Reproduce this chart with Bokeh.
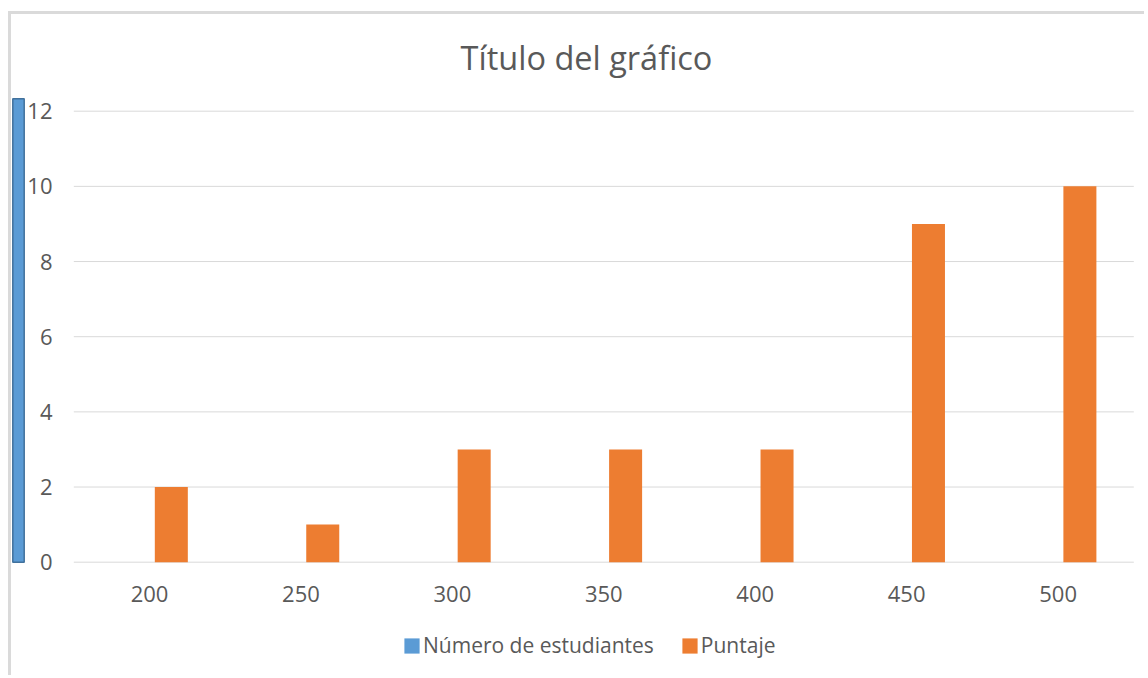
from bokeh.plotting import figure
from bokeh.models import (ColumnDataSource, Range1d, Legend, LegendItem, Label)
from bokeh.core.properties import value
from bokeh.embed import file_html
from bokeh.resources import INLINE

# ---- data ----
categories = ["200", "250", "300", "350", "400", "450", "500"]
estudiantes = [0, 0, 0, 0, 0, 0, 0]      # "Número de estudiantes" (no visible bars)
puntaje = [2, 1, 3, 3, 3, 9, 10]          # "Puntaje"
y_ticks = [0, 2, 4, 6, 8, 10, 12]
title_text = "Título del gráfico"
series_names = ["Número de estudiantes", "Puntaje"]

BLUE = "#5B9BD5"
BLUE_EDGE = "#41719C"
ORANGE = "#ED7D31"
GRID = "#D9D9D9"
BORDER = "#DADADA"
TEXT = "#595959"
FONT = "Open Sans"

# ---- geometry (pixels) ----
W, H = 1136, 664            # canvas size; canvas sits at page (11, 14)
PLOT_L, PLOT_R = 62.3, 1122.3   # plot area (category band) in canvas px
PLOT_T, PLOT_B = 96.7, 547.7    # y = top tick / y = 0 in canvas px
PXX = (PLOT_R - PLOT_L) / len(categories)
PXY = (PLOT_B - PLOT_T) / y_ticks[-1]

x_range = Range1d(-PLOT_L / PXX, (W - PLOT_L) / PXX)
y_range = Range1d(-(H - PLOT_B) / PXY, PLOT_B / PXY)

p = figure(x_range=x_range, y_range=y_range, width=W, height=H, title=None,
           x_axis_type=None, y_axis_type=None, output_backend="svg",
           toolbar_location=None, min_border_left=0, min_border_right=0,
           min_border_top=0, min_border_bottom=0)
p.styles = {"margin-top": "11px", "margin-left": "8px",
            "border-top": "3px solid " + BORDER, "border-left": "3px solid " + BORDER}
p.outline_line_color = None
p.xgrid.grid_line_color = None
p.ygrid.grid_line_color = None

n = len(categories)
centers = [i + 0.5 for i in range(n)]
src = ColumnDataSource(dict(cat=categories, xc=centers, est=estudiantes, pun=puntaje,
                            x_est=[c - 0.074 for c in centers],
                            x_pun=[c + 0.144 for c in centers]))

# gridlines (value axis)
p.segment(x0=[0] * len(y_ticks), x1=[n] * len(y_ticks), y0=y_ticks, y1=y_ticks,
          line_color=GRID, line_width=1)

r_est = p.vbar(x="x_est", top="est", width=0.218, source=src,
               fill_color=BLUE, line_color=None)
r_pun = p.vbar(x="x_pun", top="pun", width=0.218, source=src,
               fill_color=ORANGE, line_color=None)

# value-axis labels
p.text(x=[-21.3 / PXX] * len(y_ticks), y=y_ticks, text=[str(t) for t in y_ticks],
       text_align="right", text_baseline="middle", text_font=value(FONT),
       text_font_size="22px", text_color=TEXT)
# category-axis labels
p.text(x="xc", y=-31.3 / PXY, text="cat", source=src,
       text_align="center", text_baseline="middle", text_font=value(FONT),
       text_font_size="22px", text_color=TEXT)

# chart title
p.add_layout(Label(x=(586 - 11 - PLOT_L) / PXX, y=(PLOT_B - 43) / PXY, text=title_text,
                   text_align="center", text_baseline="middle", text_font=FONT,
                   text_font_size="32.5px", text_color=TEXT))

# selected-series marker at the left edge
sel_top = y_ticks[-1] + 12.4 / PXY
p.quad(left=[(1.3 - PLOT_L) / PXX], right=[(12.7 - PLOT_L) / PXX], bottom=[0], top=[sel_top],
       fill_color=BLUE, line_color=BLUE_EDGE, line_width=1.5)

legend = Legend(items=[LegendItem(label=series_names[0], renderers=[r_est]),
                       LegendItem(label=series_names[1], renderers=[r_pun])],
                orientation="horizontal", location=(391, 19),
                glyph_width=19, glyph_height=19, label_standoff=2, spacing=26,
                padding=0, margin=0, border_line_color=None, background_fill_alpha=0,
                label_text_font=FONT, label_text_font_size="21px",
                label_text_color=TEXT, label_height=20)
p.add_layout(legend, "center")

open("out.html", "w").write(file_html(p, INLINE))
